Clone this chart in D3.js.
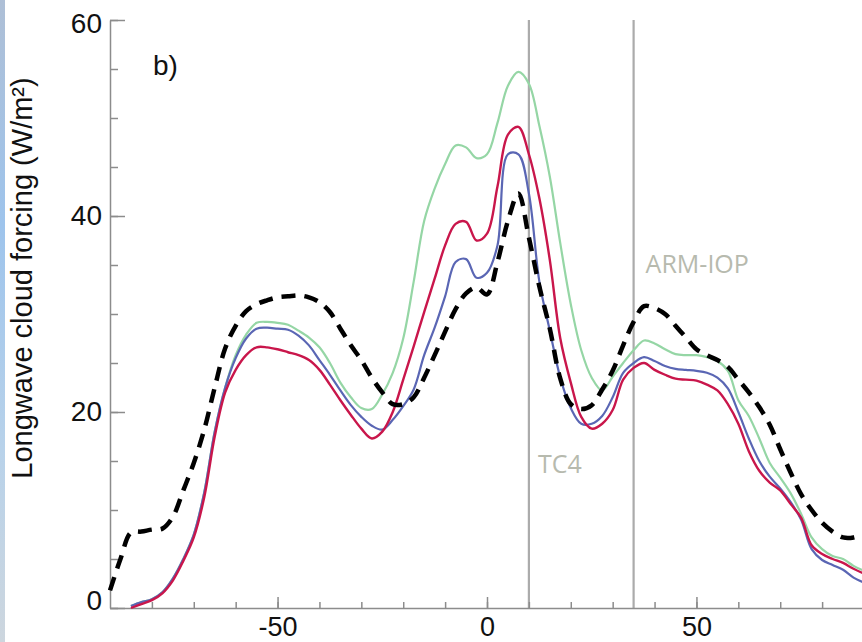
<!DOCTYPE html>
<html>
<head>
<meta charset="utf-8">
<script src="https://cdn.jsdelivr.net/npm/d3@7"></script>
<style>
  html, body { margin: 0; padding: 0; background: #fff; }
  svg { display: block; }
  .axis path, .axis line { stroke: #8c8c8c; stroke-width: 1.5; }
  .axis text { font-family: "Liberation Sans", Arial, sans-serif; font-size: 28px; fill: #111; }
  .x.axis text { font-size: 27px; }
</style>
</head>
<body>
<div id="chart"></div>
<script>
// latitude (deg) shared by all series
var lat = [-90, -87.5, -85, -82.5, -80, -77.5, -75, -72.5, -70, -67.5, -65, -62.5,
           -60, -57.5, -55, -52.5, -50, -47.5, -45, -42.5, -40, -37.5, -35, -32.5,
           -30, -27.5, -25, -22.5, -20, -17.5, -15, -12.5, -10, -7.5, -5, -2.5,
           0, 2.5, 5, 7.5, 10, 12.5, 15, 17.5, 20, 22.5, 25, 27.5,
           30, 32.5, 35, 37.5, 40, 42.5, 45, 47.5, 50, 52.5, 55, 57.5,
           60, 62.5, 65, 67.5, 70, 72.5, 75, 77.5, 80, 82.5, 85, 87.5, 90];

// observations (black dashed)
var obs = [1.8, 5, 7.7, 7.8, 8, 8.1, 9.3, 12, 14.8, 18.2, 22.5, 26.5,
           28.8, 30.3, 31, 31.4, 31.7, 31.8, 31.9, 31.7, 31.2, 30.2, 28.5, 26.8,
           25.3, 23.5, 22, 20.8, 20.8, 21.5, 23.5, 25.8, 28.2, 30.5, 32.1, 32.7,
           32, 35.3, 39.5, 42.3, 37.8, 32.8, 28.5, 23.4, 20.8, 20.3, 20.7, 22.3,
           24.2, 26.8, 29.2, 30.8, 30.6, 30, 28.8, 27.6, 26.4, 25.8, 25.3, 24.6,
           23.3, 22, 20.5, 18.7, 16.2, 13.8, 11.6, 10, 8.7, 7.8, 7.2, 7.2, 7.6];

// model runs
var green = [null, null, 0.2, 0.6, 0.9, 1.6, 3, 5, 7.5, 11.8, 18, 22.5,
             25.8, 27.9, 29.1, 29.2, 29.1, 28.9, 28.3, 27.6, 26.6, 25, 23, 21.5,
             20.4, 20.3, 21.8, 24, 27.5, 33.3, 39.5, 42.8, 45.3, 47.2, 47, 45.9,
             46.3, 49.5, 53.3, 54.7, 53.5, 49.2, 44, 37.2, 31, 26.3, 23.5, 22.2,
             23.6, 25, 26.3, 27.3, 27, 26.4, 25.9, 25.8, 25.8, 25.6, 25.2, 24.2,
             21.2, 19.6, 17.3, 14.8, 13.3, 11.7, 9.6, 7.2, 6, 5.3, 5, 4.3, 3.8];

var blue = [null, null, 0.2, 0.6, 0.9, 1.6, 3, 5, 7.5, 11.8, 18, 22.5,
            25.5, 27.5, 28.5, 28.6, 28.5, 28.4, 27.8, 26.8, 25.3, 23.8, 22.2, 20.7,
            19.5, 18.6, 18.2, 19.2, 20.6, 22.3, 25.8, 28.6, 31.8, 35.3, 35.6, 33.7,
            34.2, 37, 46.3, 46.3, 42.3, 33.3, 28.3, 23.5, 20.4, 18.8, 18.8, 19.6,
            21.5, 24, 25, 25.6, 25.2, 24.7, 24.4, 24.3, 24.2, 24, 23.5, 22.4,
            20, 17.3, 15, 13.4, 12.2, 10.8, 9, 6, 4.9, 4.4, 3.9, 3.1, 2.6];

var red = [null, null, 0, 0.4, 0.8, 1.5, 2.8, 4.8, 7.2, 11.3, 17.5, 22,
           24.3, 25.8, 26.6, 26.6, 26.4, 26.1, 25.8, 25.3, 24.3, 22.8, 21.2, 19.7,
           18.3, 17.3, 18, 20, 23.3, 26.7, 30.2, 33.6, 37, 39.2, 39.4, 37.5,
           38.2, 43, 48.3, 49.1, 46.3, 41.8, 35.5, 27.5, 23, 19.5, 18.3, 18.8,
           20.2, 23.3, 24.5, 25, 24.3, 23.8, 23.4, 23.3, 23.2, 22.8, 22.2, 20.8,
           18.8, 16, 14, 12.8, 12, 10.6, 9.2, 6.4, 5.5, 5, 4.6, 4, 3.5];

var yMajor = [0, 20, 40, 60];
var xMajor = [-50, 0, 50];
var campaigns = [{name: "TC4", lat: 10}, {name: "ARM-IOP", lat: 35}];

var W = 862, H = 642;
var margin = {top: 20, left: 110, bottom: 34};

var svg = d3.select("#chart")
            .append("svg")
            .attr("width", W)
            .attr("height", H);

// strip of slide background on the left edge
var grad = svg.append("defs").append("linearGradient")
    .attr("id", "edge").attr("x1", 0).attr("y1", 0).attr("x2", 0).attr("y2", 1);
grad.append("stop").attr("offset", "0%").attr("stop-color", "#aebfd6");
grad.append("stop").attr("offset", "35%").attr("stop-color", "#9ec4ec");
grad.append("stop").attr("offset", "70%").attr("stop-color", "#b8d2ea");
grad.append("stop").attr("offset", "100%").attr("stop-color", "#cdd6de");
svg.append("rect").attr("x", 0).attr("y", 0).attr("width", 5).attr("height", H)
    .attr("fill", "url(#edge)");

var xScale = d3.scaleLinear().domain([-90, 90]).range([margin.left, 864]);
var yScale = d3.scaleLinear().domain([0, 60]).range([H - margin.bottom, margin.top]);

// campaign markers
campaigns.forEach(function(c) {
  svg.append("line")
     .attr("x1", xScale(c.lat)).attr("x2", xScale(c.lat))
     .attr("y1", yScale(60)).attr("y2", yScale(0))
     .attr("stroke", "#ababab")
     .attr("stroke-width", 2.2);
});
svg.append("text")
   .attr("x", xScale(10) + 9).attr("y", 473)
   .style("font-family", "'Open Sans', sans-serif").style("font-size", "25px")
   .attr("fill", "#b7baae")
   .text("TC4");
svg.append("text")
   .attr("x", xScale(35) + 12).attr("y", 273)
   .style("font-family", "'Open Sans', sans-serif").style("font-size", "25px")
   .attr("fill", "#b7baae")
   .text("ARM-IOP");

// axes: ticks point inward, plain hyphen for negatives
var fmt = function(d) { return String(d); };
var yMinor = d3.axisLeft(yScale).tickValues(d3.range(0, 61, 5))
    .tickSize(-8).tickSizeOuter(0).tickFormat("");
var yAxis = d3.axisLeft(yScale).tickValues(yMajor)
    .tickSize(-15).tickSizeOuter(0).tickPadding(8).tickFormat(fmt);
var xMinor = d3.axisBottom(xScale).tickValues(d3.range(-80, 90, 10))
    .tickSize(-6).tickSizeOuter(0).tickFormat("");
var xAxis = d3.axisBottom(xScale).tickValues(xMajor)
    .tickSize(-11).tickSizeOuter(0).tickPadding(9).tickFormat(fmt);

svg.append("g").attr("class", "y axis")
   .attr("transform", "translate(" + margin.left + ",0)").call(yMinor);
var gy = svg.append("g").attr("class", "y axis")
   .attr("transform", "translate(" + margin.left + ",0)").call(yAxis);
gy.select(".domain").remove();
gy.selectAll("text").attr("dy", function(d) {
  if (d === 60) return "0.46em";
  if (d === 0) return "0.04em";
  return "0.32em";
});

svg.append("g").attr("class", "x axis")
   .attr("transform", "translate(0," + yScale(0) + ")").call(xMinor);
var gx = svg.append("g").attr("class", "x axis")
   .attr("transform", "translate(0," + yScale(0) + ")").call(xAxis);
gx.select(".domain").remove();

// labels
svg.append("text")
   .attr("transform", "translate(32,278) rotate(-90)")
   .attr("text-anchor", "middle")
   .style("font-family", "'Liberation Sans', Arial, sans-serif").style("font-size", "29px")
   .attr("fill", "#111")
   .text("Longwave cloud forcing (W/m²)");
svg.append("text")
   .attr("x", 153).attr("y", 75)
   .style("font-family", "'Liberation Sans', Arial, sans-serif").style("font-size", "28px")
   .attr("fill", "#111")
   .text("b)");

// curves
var line = function(vals) {
  return d3.line()
      .defined(function(d, i) { return vals[i] !== null; })
      .x(function(d) { return xScale(d); })
      .y(function(d, i) { return yScale(vals[i]); })
      .curve(d3.curveCatmullRom.alpha(0.5))(lat);
};

var series = [
  {vals: green, color: "#95d6a5", width: 2.2, dash: null},
  {vals: blue,  color: "#5a66b4", width: 2.2, dash: null},
  {vals: red,   color: "#c9164b", width: 2.4, dash: null},
  {vals: obs,   color: "#000",    width: 4.5, dash: "14,9"}
];

series.forEach(function(s) {
  svg.append("path")
     .attr("d", line(s.vals))
     .attr("fill", "none")
     .attr("stroke", s.color)
     .attr("stroke-width", s.width)
     .attr("stroke-dasharray", s.dash)
     .attr("stroke-linejoin", "round");
});
</script>
</body>
</html>
